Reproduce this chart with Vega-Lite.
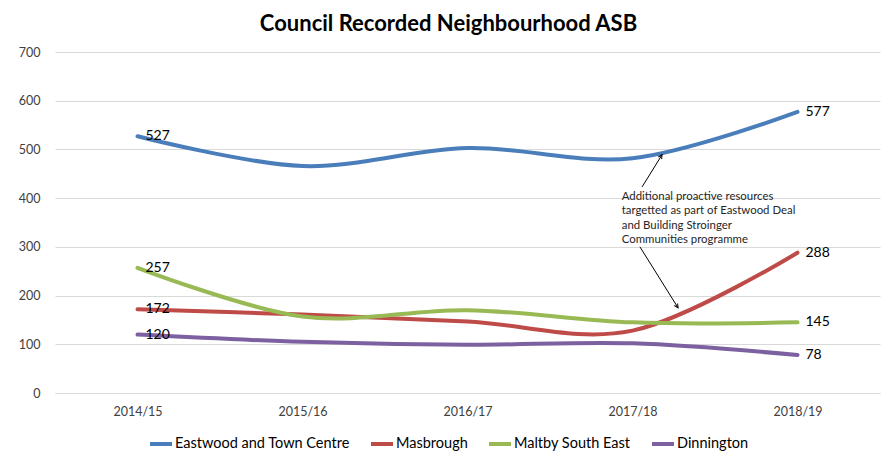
{
  "$schema": "https://vega.github.io/schema/vega-lite/v6.json",
  "width": 825,
  "height": 341,
  "autosize": {"type": "none"},
  "padding": {"left": 55, "top": 52, "right": 1, "bottom": 65},
  "background": "white",
  "config": {
    "font": "Lato",
    "view": {"stroke": null},
    "axis": {"labelFont": "Lato", "labelFontSize": 12.5, "labelColor": "#404040", "gridColor": "#d9d9d9", "domain": false, "ticks": false}
  },
  "title": {"text": "Council Recorded Neighbourhood ASB", "font": "Lato", "fontSize": 22, "fontWeight": "bold", "color": "#000000", "offset": 10, "dx": -19, "frame": "group"},
  "data": {"values": [
    {"year": "2014/15", "i": 0, "area": "Eastwood and Town Centre", "value": 527},
    {"year": "2015/16", "i": 1, "area": "Eastwood and Town Centre", "value": 466},
    {"year": "2016/17", "i": 2, "area": "Eastwood and Town Centre", "value": 503},
    {"year": "2017/18", "i": 3, "area": "Eastwood and Town Centre", "value": 482},
    {"year": "2018/19", "i": 4, "area": "Eastwood and Town Centre", "value": 577},
    {"year": "2014/15", "i": 0, "area": "Masbrough", "value": 172},
    {"year": "2015/16", "i": 1, "area": "Masbrough", "value": 161},
    {"year": "2016/17", "i": 2, "area": "Masbrough", "value": 147},
    {"year": "2017/18", "i": 3, "area": "Masbrough", "value": 128},
    {"year": "2018/19", "i": 4, "area": "Masbrough", "value": 288},
    {"year": "2014/15", "i": 0, "area": "Maltby South East", "value": 257},
    {"year": "2015/16", "i": 1, "area": "Maltby South East", "value": 157},
    {"year": "2016/17", "i": 2, "area": "Maltby South East", "value": 170},
    {"year": "2017/18", "i": 3, "area": "Maltby South East", "value": 145},
    {"year": "2018/19", "i": 4, "area": "Maltby South East", "value": 145},
    {"year": "2014/15", "i": 0, "area": "Dinnington", "value": 120},
    {"year": "2015/16", "i": 1, "area": "Dinnington", "value": 105},
    {"year": "2016/17", "i": 2, "area": "Dinnington", "value": 99},
    {"year": "2017/18", "i": 3, "area": "Dinnington", "value": 102},
    {"year": "2018/19", "i": 4, "area": "Dinnington", "value": 78}
  ]},
  "layer": [
    {
      "mark": {"type": "line", "interpolate": "cardinal", "strokeWidth": 4, "strokeCap": "round"},
      "encoding": {
        "x": {"field": "i", "type": "quantitative", "scale": {"domain": [-0.5, 4.5], "nice": false, "zero": false},
          "axis": {"values": [0, 1, 2, 3, 4], "labelExpr": "['2014/15','2015/16','2016/17','2017/18','2018/19'][datum.value]", "grid": false, "domain": true, "domainColor": "#d9d9d9", "labelPadding": 12, "labelDx": -5, "title": null}},
        "y": {"field": "value", "type": "quantitative", "scale": {"domain": [0, 700], "nice": false},
          "axis": {"values": [0, 100, 200, 300, 400, 500, 600, 700], "labelPadding": 15, "title": null}},
        "color": {"field": "area", "type": "nominal",
          "scale": {"domain": ["Eastwood and Town Centre", "Masbrough", "Maltby South East", "Dinnington"], "range": ["#4A7EBB", "#BE4B48", "#98B954", "#7D60A0"]},
          "legend": {"title": null, "orient": "none", "legendX": 93, "legendY": 379, "direction": "horizontal", "symbolType": "stroke", "symbolStrokeWidth": 4, "symbolSize": 484, "labelFont": "Lato", "labelFontSize": 14.5, "labelColor": "#000000", "labelOffset": 1, "labelLimit": 400, "columnPadding": 13}}
      }
    },
    {
      "transform": [{"filter": "datum.i == 0 || datum.i == 4"}],
      "mark": {"type": "text", "align": "left", "dx": 8, "fontSize": 14, "font": "Lato", "color": "#000000"},
      "encoding": {
        "x": {"field": "i", "type": "quantitative"},
        "y": {"field": "value", "type": "quantitative"},
        "text": {"field": "value", "type": "quantitative"}
      }
    },
    {
      "data": {"values": [{"note": "annotation"}]},
      "mark": {"type": "text", "align": "left", "baseline": "middle", "fontSize": 11.4, "fontWeight": 400, "font": "Lato", "color": "#262626", "lineHeight": 14.2,
        "text": ["Additional proactive resources", "targetted as part of Eastwood Deal", "and Building Stroinger", "Communities programme"]},
      "encoding": {
        "x": {"datum": 2.935, "type": "quantitative"},
        "y": {"datum": 402, "type": "quantitative"}
      }
    },
    {
      "data": {"values": [{"note": "arrow 1"}]},
      "mark": {"type": "rule", "color": "#000000", "strokeWidth": 1},
      "encoding": {
        "x": {"datum": 3.058, "type": "quantitative"},
        "y": {"datum": 423, "type": "quantitative"},
        "x2": {"datum": 3.179},
        "y2": {"datum": 489}
      }
    },
    {
      "data": {"values": [{"note": "arrow 2"}]},
      "mark": {"type": "rule", "color": "#000000", "strokeWidth": 1},
      "encoding": {
        "x": {"datum": 3.045, "type": "quantitative"},
        "y": {"datum": 300, "type": "quantitative"},
        "x2": {"datum": 3.276},
        "y2": {"datum": 175}
      }
    },
    {
      "data": {"values": [{"note": "arrowhead 1"}]},
      "mark": {"type": "point", "shape": "M-0.5,1L0,0L0.5,1", "size": 60, "filled": false, "stroke": "#000000", "strokeWidth": 1, "angle": 32, "opacity": 1},
      "encoding": {
        "x": {"datum": 3.179, "type": "quantitative"},
        "y": {"datum": 489, "type": "quantitative"}
      }
    },
    {
      "data": {"values": [{"note": "arrowhead 2"}]},
      "mark": {"type": "point", "shape": "M-0.5,1L0,0L0.5,1", "size": 60, "filled": false, "stroke": "#000000", "strokeWidth": 1, "angle": 148, "opacity": 1},
      "encoding": {
        "x": {"datum": 3.276, "type": "quantitative"},
        "y": {"datum": 175, "type": "quantitative"}
      }
    }
  ]
}
